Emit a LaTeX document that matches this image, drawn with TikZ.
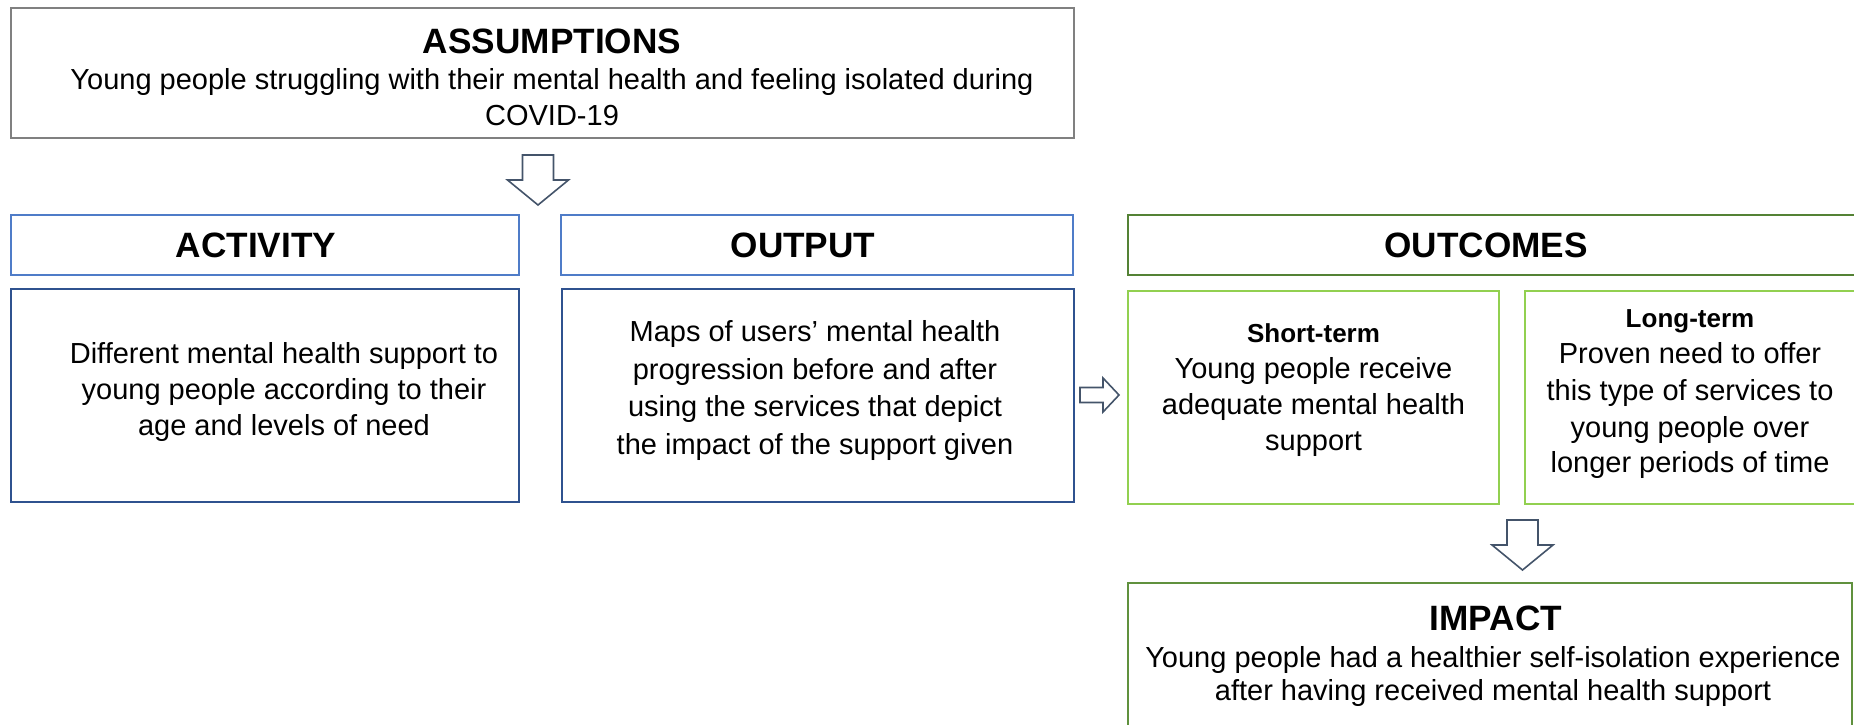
\documentclass[tikz,border=0pt]{standalone}
\usepackage{fontspec}
\setmainfont{Liberation Sans}
\definecolor{framegray}{RGB}{128,128,128}
\definecolor{headblue}{RGB}{79,124,200}
\definecolor{bodyblue}{RGB}{47,82,143}
\definecolor{darkgreen}{RGB}{84,130,53}
\definecolor{lightgreen}{RGB}{146,208,80}
\definecolor{impactgreen}{RGB}{96,145,62}
\definecolor{arrowslate}{RGB}{68,84,106}
\begin{document}
\begin{tikzpicture}[x=0.5pt,y=-0.5pt,
  box/.style={draw=#1, line width=1.1pt, fill=white, rectangle, inner sep=0pt, outer sep=0pt},
  title/.style={font=\fontsize{17.6}{21}\selectfont\bfseries, anchor=base, inner sep=0pt},
  sub/.style={font=\fontsize{13}{16}\selectfont\bfseries, anchor=base, inner sep=0pt},
  ln/.style={font=\fontsize{14.5}{18}\selectfont, anchor=base, inner sep=0pt},
  blockarrow/.style={draw=arrowslate, fill=white, line width=0.8pt, line join=miter}]
\useasboundingbox (0,0) rectangle (1854,724);
\clip (0,0) rectangle (1854,724);

% frames
\node[box=framegray, minimum width=531.5pt, minimum height=65pt] (asm) at (542.5,73) {};
\node[box=headblue, minimum width=254pt, minimum height=30pt] (acth) at (265,245) {};
\node[box=headblue, minimum width=256pt, minimum height=30pt] (outh) at (817,245) {};
\node[box=bodyblue, minimum width=254pt, minimum height=106.5pt] (actb) at (265,395.5) {};
\node[box=bodyblue, minimum width=256pt, minimum height=106.5pt] (outb) at (818,395.5) {};
\node[box=darkgreen, minimum width=364pt, minimum height=30pt] (outch) at (1492,245) {};
\node[box=lightgreen, minimum width=185.5pt, minimum height=106.5pt] (shortb) at (1313.5,397.5) {};
\node[box=lightgreen, minimum width=165.5pt, minimum height=106.5pt] (longb) at (1690.5,397.5) {};
\node[box=impactgreen, minimum width=362pt, minimum height=78.5pt] (impb) at (1490,661.5) {};

% assumptions
\node[title] (asmt) at (552,53) {ASSUMPTIONS};
\node[ln] (asm1) at (552,89) {Young people struggling with their mental health and feeling isolated during};
\node[ln] (asm2) at (552,125) {COVID-19};

% activity and output
\node[title] (actt) at (256,257) {ACTIVITY};
\node[title] (outt) at (803,257) {OUTPUT};
\node[ln] (act1) at (284,363) {Different mental health support to};
\node[ln] (act2) at (284,399) {young people according to their};
\node[ln] (act3) at (284,435) {age and levels of need};
\node[ln] (out1) at (815,341) {Maps of users’ mental health};
\node[ln] (out2) at (815,379) {progression before and after};
\node[ln] (out3) at (815,416) {using the services that depict};
\node[ln] (out4) at (815,454) {the impact of the support given};

% outcomes
\node[title] (outct) at (1486,257) {OUTCOMES};
\node[sub] (shortt) at (1313.5,342) {Short-term};
\node[ln] (short1) at (1313.5,378) {Young people receive};
\node[ln] (short2) at (1313.5,414) {adequate mental health};
\node[ln] (short3) at (1313.5,450) {support};
\node[sub] (longt) at (1690,327) {Long-term};
\node[ln] (long1) at (1690,363) {Proven need to offer};
\node[ln] (long2) at (1690,400) {this type of services to};
\node[ln] (long3) at (1690,437) {young people over};
\node[ln] (long4) at (1690,472) {longer periods of time};

% impact
\node[title] (impt) at (1496,630) {IMPACT};
\node[ln] (imp1) at (1493,667) {Young people had a healthier self-isolation experience};
\node[ln] (imp2) at (1493,700) {after having received mental health support};

% block arrows
\coordinate (arrA) at (538,155);
\coordinate (arrB) at (1522.5,520);
\coordinate (arrC) at (1080,395);
\draw[blockarrow, shift={(arrA)}] (-15.5,0) -- (15.5,0) -- (15.5,25) -- (30.5,25) -- (0,50) -- (-30.5,25) -- (-15.5,25) -- cycle;
\draw[blockarrow, shift={(arrB)}] (-15.5,0) -- (15.5,0) -- (15.5,25) -- (30.5,25) -- (0,50) -- (-30.5,25) -- (-15.5,25) -- cycle;
\draw[blockarrow, shift={(arrC)}] (0,-7.5) -- (23,-7.5) -- (23,-17) -- (39,0) -- (23,17) -- (23,7.5) -- (0,7.5) -- cycle;
\end{tikzpicture}
\end{document}
